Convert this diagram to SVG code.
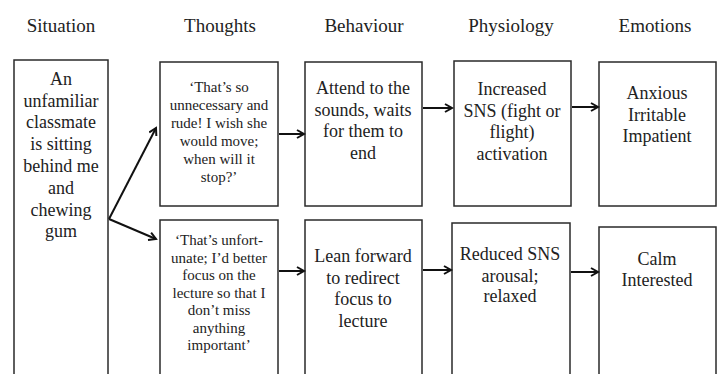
<svg xmlns="http://www.w3.org/2000/svg" width="718" height="374" viewBox="0 0 718 374">
<defs>
<style>
.box{fill:#fff;stroke:#2a2a2a;stroke-width:1.5}
.hd{font-family:"Liberation Serif","Times New Roman",serif;font-size:19px;fill:#222;text-anchor:middle}
.t{font-family:"Liberation Serif","Times New Roman",serif;font-size:18px;fill:#222;text-anchor:middle}
.s{font-family:"Liberation Serif","Times New Roman",serif;font-size:15px;fill:#222;text-anchor:middle}
.c{stroke:#111;stroke-width:2;fill:none}
</style>
<marker id="ah" markerWidth="10" markerHeight="10" refX="8" refY="5" orient="auto" markerUnits="userSpaceOnUse">
<path d="M1,1 L8,5 L1,9" fill="none" stroke="#111" stroke-width="2"/>
</marker>
</defs>
<rect width="718" height="374" fill="#fff"/>
<g id="headers">
<text class="hd" x="61" y="32">Situation</text>
<text class="hd" x="220" y="32">Thoughts</text>
<text class="hd" x="364" y="32">Behaviour</text>
<text class="hd" x="511" y="32">Physiology</text>
<text class="hd" x="655" y="32">Emotions</text>
</g>
<g id="situation">
<rect class="box" x="14" y="60" width="94" height="320"/>
<text class="t" x="61" y="85">An</text>
<text class="t" x="61" y="107">unfamiliar</text>
<text class="t" x="61" y="128">classmate</text>
<text class="t" x="61" y="150">is sitting</text>
<text class="t" x="61" y="172">behind me</text>
<text class="t" x="61" y="194">and</text>
<text class="t" x="61" y="216">chewing</text>
<text class="t" x="61" y="237">gum</text>
</g>
<g id="thought1">
<rect class="box" x="160" y="62" width="118" height="144"/>
<text class="s" x="219" y="92">‘That’s so</text>
<text class="s" x="219" y="110">unnecessary and</text>
<text class="s" x="219" y="128">rude! I wish she</text>
<text class="s" x="219" y="146">would move;</text>
<text class="s" x="219" y="164">when will it</text>
<text class="s" x="219" y="182">stop?’</text>
</g>
<g id="thought2">
<rect class="box" x="160" y="220" width="118" height="160"/>
<text class="s" x="219" y="245">‘That’s unfort-</text>
<text class="s" x="219" y="263">unate; I’d better</text>
<text class="s" x="219" y="280">focus on the</text>
<text class="s" x="219" y="298">lecture so that I</text>
<text class="s" x="219" y="315">don’t miss</text>
<text class="s" x="219" y="333">anything</text>
<text class="s" x="219" y="350">important’</text>
</g>
<g id="behaviour1">
<rect class="box" x="305" y="62" width="117" height="144"/>
<text class="t" x="363" y="94">Attend to the</text>
<text class="t" x="363" y="116">sounds, waits</text>
<text class="t" x="363" y="137">for them to</text>
<text class="t" x="363" y="159">end</text>
</g>
<g id="behaviour2">
<rect class="box" x="305" y="220" width="117" height="160"/>
<text class="t" x="363" y="262">Lean forward</text>
<text class="t" x="363" y="284">to redirect</text>
<text class="t" x="363" y="305">focus to</text>
<text class="t" x="363" y="327">lecture</text>
</g>
<g id="physiology1">
<rect class="box" x="454" y="61" width="117" height="145"/>
<text class="t" x="512" y="95">Increased</text>
<text class="t" x="512" y="117">SNS (fight or</text>
<text class="t" x="512" y="138">flight)</text>
<text class="t" x="512" y="160">activation</text>
</g>
<g id="physiology2">
<rect class="box" x="452" y="223" width="118" height="157"/>
<text class="t" x="510" y="260">Reduced SNS</text>
<text class="t" x="510" y="282">arousal;</text>
<text class="t" x="510" y="302">relaxed</text>
</g>
<g id="emotions1">
<rect class="box" x="599" y="62" width="117" height="144"/>
<text class="t" x="657" y="99">Anxious</text>
<text class="t" x="657" y="121">Irritable</text>
<text class="t" x="657" y="142">Impatient</text>
</g>
<g id="emotions2">
<rect class="box" x="599" y="227" width="117" height="153"/>
<text class="t" x="657" y="265">Calm</text>
<text class="t" x="657" y="286">Interested</text>
</g>
<g id="connectors">
<path class="c" d="M109,219 L156,128" marker-end="url(#ah)"/>
<path class="c" d="M109,219 L156,239" marker-end="url(#ah)"/>
<path class="c" d="M279,134 L304,134" marker-end="url(#ah)"/>
<path class="c" d="M279,271 L304,271" marker-end="url(#ah)"/>
<path class="c" d="M423,108 L452,108" marker-end="url(#ah)"/>
<path class="c" d="M423,270 L451,270" marker-end="url(#ah)"/>
<path class="c" d="M572,107 L598,107" marker-end="url(#ah)"/>
<path class="c" d="M571,272 L598,272" marker-end="url(#ah)"/>
</g>
</svg>
